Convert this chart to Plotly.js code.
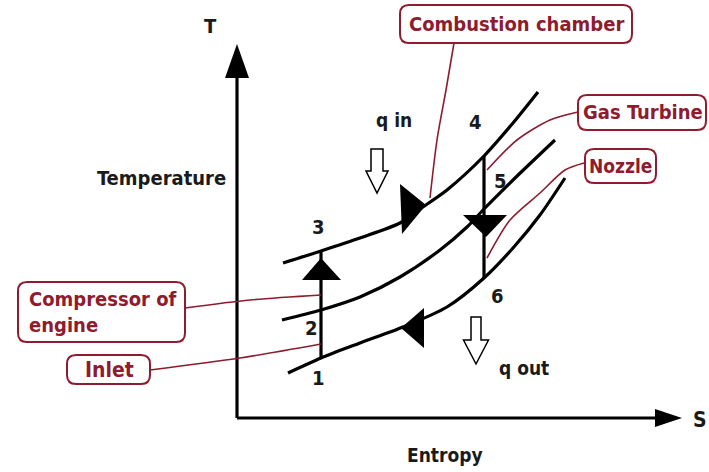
<!DOCTYPE html>
<html>
<head>
<meta charset="utf-8">
<script src="https://cdn.plot.ly/plotly-3.0.1.min.js"></script>
<style>html,body{margin:0;padding:0;background:#fff}#chart{width:709px;height:472px}</style>
</head>
<body>
<div id="chart"></div>
<script>
// ---- Diagram data (canvas coordinates: x = entropy direction, y = down-screen) ----
// Constant-pressure lines (isobars)
const isobarHighS = [283, 321, 360, 400, 420, 447, 484, 513, 538];
const isobarHighT = [263, 251, 238, 223, 209, 190, 156, 123, 92];
const isobarMidS  = [282, 321, 360, 400, 440, 467, 484, 513, 555];
const isobarMidT  = [320, 310, 297, 277, 250, 227, 209, 180, 140];
const isobarLowS  = [288, 321, 360, 403, 447, 484, 513, 540, 565];
const isobarLowT  = [373, 358, 343, 327, 307, 278, 248, 215, 178];
// Cycle state points
const stateLabels = ["1", "2", "3", "4", "5", "6"];
const stateS = [318, 311, 318, 475, 500, 497];
const stateT = [378, 328, 227, 122, 181, 296];
// Process lines (isentropic compression 1-3, expansion 4-6)
const compS = [321, 321]; const compT = [358, 251];
const expS  = [484, 484]; const expT  = [156, 278];
// Axes
const tAxisS = [237, 237]; const tAxisT = [418, 70];
const sAxisS = [237, 660]; const sAxisT = [418, 418];
// Component callouts
const calloutText = ["Combustion chamber", "Gas Turbine", "Nozzle", "Compressor of<br>engine", "Inlet"];
const calloutBox = [[400, 5, 632, 43], [578, 95, 706, 130], [585, 149, 656, 183], [18, 282, 185, 342], [67, 355, 150, 384]];
const leaderS = [[454, 446, 437, 430], [578, 550, 517, 487], [584, 565, 540, 510, 487], [185, 250, 321], [150, 240, 321]];
const leaderT = [[43, 90, 140, 198], [112, 120, 140, 170], [163, 170, 193, 220, 258], [308, 300, 295], [370, 358, 344]];

const red = "#8e1b2e";
const fontName = "'Liberation Sans Narrow', 'DejaVu Sans Condensed', Roboto, sans-serif";

const traces = [];
function line(xs, ys, color, width, shape) {
  traces.push({x: xs, y: ys, mode: "lines", line: {color: color, width: width, shape: shape || "spline", smoothing: 0.8}, hoverinfo: "skip", showlegend: false});
}
line(isobarHighS, isobarHighT, "#000", 3.2);
line(isobarMidS, isobarMidT, "#000", 3.2);
line(isobarLowS, isobarLowT, "#000", 3.2);
line(compS, compT, "#000", 3.2, "linear");
line(expS, expT, "#000", 3.2, "linear");
line(tAxisS, tAxisT, "#000", 3.2, "linear");
line(sAxisS, sAxisT, "#000", 3.2, "linear");
for (let i = 0; i < leaderS.length; i++) line(leaderS[i], leaderT[i], red, 1.6);

function poly(pts, fill, stroke) {
  return {type: "path", xref: "x", yref: "y",
    path: "M" + pts.map(p => p[0] + "," + p[1]).join(" L") + " Z",
    fillcolor: fill, line: {color: stroke || fill, width: stroke ? 1.5 : 0}};
}
function roundRect(b, r) {
  const [x0, y0, x1, y1] = b;
  const p = `M${x0 + r},${y0} L${x1 - r},${y0} Q${x1},${y0} ${x1},${y0 + r} L${x1},${y1 - r} Q${x1},${y1} ${x1 - r},${y1} L${x0 + r},${y1} Q${x0},${y1} ${x0},${y1 - r} L${x0},${y0 + r} Q${x0},${y0} ${x0 + r},${y0} Z`;
  return {type: "path", xref: "x", yref: "y", path: p, fillcolor: "#fff", line: {color: red, width: 2}};
}
function hollowDown(cx, top, bottom, shaftW, headW, headH) {
  const hs = shaftW / 2, hh = headW / 2, yb = bottom - headH;
  return poly([[cx - hs, top], [cx + hs, top], [cx + hs, yb], [cx + hh, yb], [cx, bottom], [cx - hh, yb], [cx - hs, yb]], "#fff", "#000");
}

const shapes = [
  // axis arrow heads
  poly([[225, 78], [249, 78], [237, 44]], "#000"),
  poly([[655, 409], [655, 427], [682, 418]], "#000"),
  // process direction arrows
  poly([[302, 280], [341, 280], [321, 258]], "#000"),
  poly([[400, 184], [402, 234], [426, 205]], "#000"),
  poly([[463, 215], [507, 215], [486, 237]], "#000"),
  poly([[424, 308], [424, 348], [401, 328]], "#000"),
  // heat flow arrows
  hollowDown(377, 149, 193, 12, 22, 22),
  hollowDown(476, 317, 364, 10, 25, 24)
];
calloutBox.forEach(b => shapes.push(roundRect(b, 9)));

const ann = [];
function txt(x, y, t, size, color, xa) {
  ann.push({x: x, y: y, text: t, showarrow: false, xanchor: xa || "center", yanchor: "middle", align: "left",
    font: {family: fontName, size: size, color: color, weight: "bold"}});
}
for (let i = 0; i < stateLabels.length; i++) txt(stateS[i], stateT[i], stateLabels[i], 20, "#1a1a1a");
txt(210, 26, "T", 20, "#1a1a1a");
txt(700, 420, "S", 21, "#1a1a1a");
txt(161, 178, "Temperature", 20, "#1a1a1a");
txt(445, 455, "Entropy", 19, "#1a1a1a");
txt(394, 120, "q in", 19, "#1a1a1a");
txt(524, 368, "q out", 19, "#1a1a1a");
txt(516, 24, calloutText[0], 20, red);
txt(643, 112, calloutText[1], 20, red);
txt(620, 166, calloutText[2], 19, red);
txt(27, 312, calloutText[3], 20, red, "left");
txt(109, 370, calloutText[4], 21, red);

Plotly.newPlot("chart", traces, {
  width: 709, height: 472,
  margin: {l: 0, r: 0, t: 0, b: 0},
  paper_bgcolor: "#fff", plot_bgcolor: "#fff",
  xaxis: {range: [0, 709], visible: false, fixedrange: true},
  yaxis: {range: [472, 0], visible: false, fixedrange: true},
  shapes: shapes, annotations: ann, showlegend: false
}, {staticPlot: true});
</script>
</body>
</html>
